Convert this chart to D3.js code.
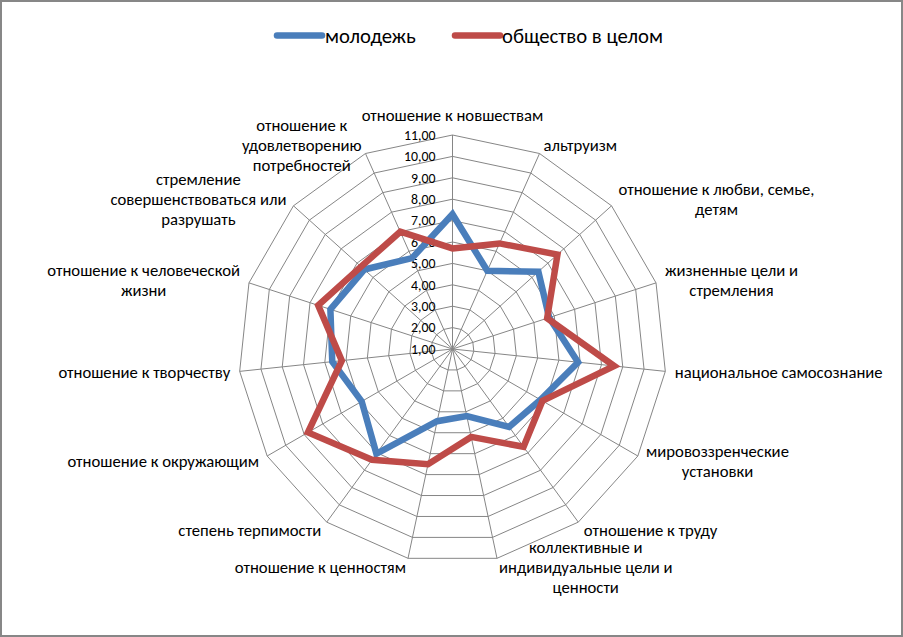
<!DOCTYPE html>
<html><head><meta charset="utf-8">
<script src="https://cdn.jsdelivr.net/npm/d3@7"></script>
<style>body{margin:0;background:#fff}svg{display:block}</style>
</head><body>
<svg id="c" width="903" height="637"></svg>
<script>
// ---- data ----
const categories = [
  "отношение к новшествам",
  "альтруизм",
  "отношение к любви, семье, детям",
  "жизненные цели и стремления",
  "национальное самосознание",
  "мировоззренческие установки",
  "отношение к труду",
  "коллективные и индивидуальные цели и ценности",
  "отношение к ценностям",
  "степень терпимости",
  "отношение к окружающим",
  "отношение к творчеству",
  "отношение к человеческой жизни",
  "стремление совершенствоваться или разрушать",
  "отношение к удовлетворению потребностей"
];
const categoryLines = [
  ["отношение к новшествам"],
  ["альтруизм"],
  ["отношение к любви, семье,", "детям"],
  ["жизненные цели и", "стремления"],
  ["национальное самосознание"],
  ["мировоззренческие", "установки"],
  ["отношение к труду"],
  ["коллективные и", "индивидуальные цели и", "ценности"],
  ["отношение к ценностям"],
  ["степень терпимости"],
  ["отношение к окружающим"],
  ["отношение к творчеству"],
  ["отношение к человеческой", "жизни"],
  ["стремление", "совершенствоваться или", "разрушать"],
  ["отношение к", "удовлетворению", "потребностей"]
];
const seriesNames = ["молодежь", "общество в целом"];
const youthValues   = [7.3, 5.0, 6.4, 5.75, 6.9, 5.75, 5.5, 4.2, 4.45, 7.05, 5.9, 6.65, 7.0, 6.55, 5.65];
const societyValues = [5.7, 6.4, 7.6, 5.65, 8.6, 5.85, 6.65, 5.2, 6.5, 7.4, 8.8, 6.2, 7.6, 6.75, 7.0];
const tickValues = [1,2,3,4,5,6,7,8,9,10,11];
const tickLabels = ["1,00","2,00","3,00","4,00","5,00","6,00","7,00","8,00","9,00","10,00","11,00"];
const seriesColors = ["#4A7EBB", "#BE4B48"];

// ---- layout ----
const cx = 452.5, cy = 349, R = 214;
const svg = d3.select("#c");
const FONT = "Calibri, Carlito, 'Open Sans', sans-serif";
function fitSize(text, target) {
  const t = svg.append("text").attr("font-family", FONT).attr("font-size", 100).text(text);
  const w = t.node().getComputedTextLength(); t.remove();
  return 100 * target / w;
}
const labelSize = fitSize("отношение к творчеству", 172);
const tickSize = fitSize("11,00", 31.5);
const legendSize = fitSize("общество в целом", 161);

svg.append("rect").attr("x",1).attr("y",1).attr("width",901).attr("height",635)
  .attr("fill","#fff").attr("stroke","#878787").attr("stroke-width",2);

const r = d3.scaleLinear().domain([1, 11]).range([0, R]);
const n = categories.length;
const ang = d3.scaleLinear().domain([0, n]).range([0, 2 * Math.PI]);
const g = svg.append("g").attr("transform", `translate(${cx},${cy})`);

// rings
const ringLine = d3.lineRadial().angle((d, i) => ang(i)).radius(d => d).curve(d3.curveLinearClosed);
g.selectAll("path.ring").data(tickValues.slice(1)).join("path")
  .attr("class","ring")
  .attr("d", v => ringLine(d3.range(n).map(() => r(v))))
  .attr("fill","none").attr("stroke","#868686").attr("stroke-width",1);
// spokes
g.selectAll("line.spoke").data(d3.range(n)).join("line")
  .attr("x1",0).attr("y1",0)
  .attr("x2", i => r(11) * Math.sin(ang(i)))
  .attr("y2", i => -r(11) * Math.cos(ang(i)))
  .attr("stroke","#868686").attr("stroke-width",1);

// tick labels
g.selectAll("text.tick").data(tickValues).join("text")
  .attr("class","tick")
  .attr("x", -17).attr("y", v => -r(v)).attr("dy","0.35em")
  .attr("text-anchor","end").attr("font-family",FONT).attr("font-size",tickSize)
  .attr("fill","#000").text((v,i) => tickLabels[i]);

// series
const seriesLine = d3.lineRadial().angle((d, i) => ang(i)).radius(d => r(d)).curve(d3.curveLinearClosed);
[youthValues, societyValues].forEach((vals, k) => {
  g.append("path").attr("d", seriesLine(vals)).attr("fill","none")
    .attr("stroke", seriesColors[k]).attr("stroke-width", 6.5)
    .attr("stroke-linejoin","miter").attr("stroke-miterlimit", 10);
});

// category labels
const lh = 20;
categoryLines.forEach((lines, i) => {
  const a = ang(i), sx = Math.sin(a), sy = -Math.cos(a);
  const px = (R + 9.5) * sx, py = (R + 9.5) * sy;
  const m = lines.length;
  const tg = g.append("g");
  const texts = lines.map(l => tg.append("text").attr("font-family",FONT).attr("font-size",labelSize).attr("fill","#000").attr("text-anchor","middle").attr("dy","0.35em").text(l));
  const bw = d3.max(texts, t => t.node().getComputedTextLength());
  let xc, yc;
  if (Math.abs(sx) < 0.05) { xc = px; yc = py - m * lh / 2 + (sy > 0 ? m * lh : 0); }
  else { xc = sx > 0 ? px + bw / 2 : px - bw / 2; yc = py; }
  texts.forEach((t, k) => t.attr("x", xc).attr("y", yc + (k - (m - 1) / 2) * lh));
});

// legend
const legend = svg.append("g");
const legendItems = [{x1:277, x2:322, tx:325}, {x1:455, x2:500, tx:502}];
seriesNames.forEach((name, k) => {
  const it = legendItems[k];
  legend.append("line").attr("x1",it.x1).attr("x2",it.x2).attr("y1",35.5).attr("y2",35.5)
    .attr("stroke",seriesColors[k]).attr("stroke-width",6.5).attr("stroke-linecap","round");
  legend.append("text").attr("x",it.tx).attr("y",35.5).attr("dy","0.35em")
    .attr("font-family",FONT).attr("font-size",legendSize).attr("fill","#000").text(name);
});
</script>
</body></html>
